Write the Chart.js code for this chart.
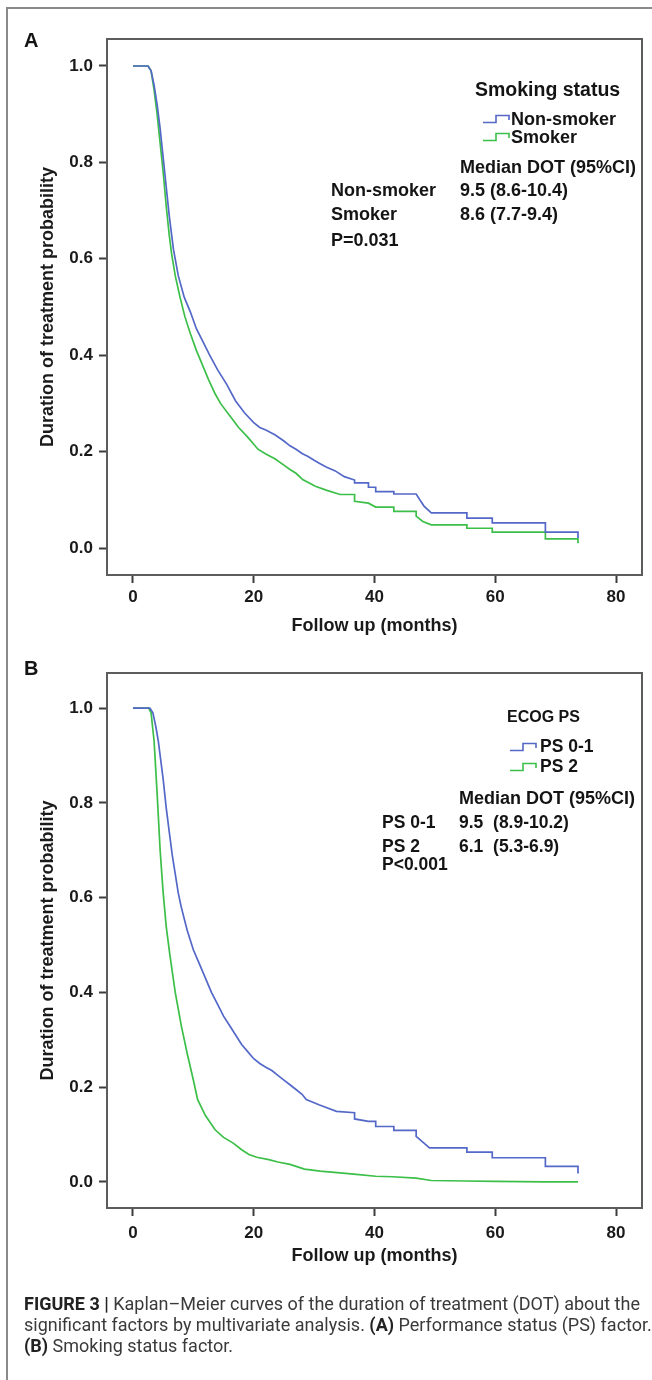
<!DOCTYPE html>
<html><head><meta charset="utf-8">
<script src="https://cdn.jsdelivr.net/npm/chart.js@4.4.1/dist/chart.umd.min.js"></script>
<style>
html,body{margin:0;padding:0;background:#fff;}
body{width:652px;height:1380px;position:relative;overflow:hidden;font-family:"Liberation Sans",Arial,sans-serif;}
.frame{position:absolute;left:6px;top:7px;width:800px;height:1500px;border-left:2px solid #8a8a8a;border-top:2px solid #8a8a8a;}
canvas{position:absolute;left:0;}
.t{position:absolute;white-space:pre;font-weight:bold;color:#141414;line-height:1;transform:translateY(-50%);}
.ic{position:absolute;transform:translateY(-50%);}
.cap{position:absolute;left:24px;white-space:pre;color:#3a3a3a;font-family:"Liberation Sans Narrow","Roboto",sans-serif;line-height:1;transform:translateY(-50%);}
.cap b{color:#222;}
</style></head>
<body>
<div class="frame"></div>
<canvas id="cA" width="652" height="645" style="top:0"></canvas>
<canvas id="cB" width="652" height="640" style="top:640px"></canvas>

<div class="t" style="left:24px;top:40px;font-size:20px">A</div>
<div class="t" style="left:475px;top:90px;font-size:19.5px">Smoking status</div>
<svg class="ic" style="left:483px;top:119px" width="28" height="10"><path d="M0,8.5H13V1.5H26V6" fill="none" stroke="#5468c8" stroke-width="1.6"/></svg>
<div class="t" style="left:511px;top:119px;font-size:18px">Non-smoker</div>
<svg class="ic" style="left:483px;top:137px" width="28" height="10"><path d="M0,8.5H13V1.5H26V6" fill="none" stroke="#3cbf48" stroke-width="1.6"/></svg>
<div class="t" style="left:511px;top:137px;font-size:18px">Smoker</div>
<div class="t" style="left:460px;top:167px;font-size:18px">Median DOT (95%CI)</div>
<div class="t" style="left:331px;top:190px;font-size:18px">Non-smoker</div>
<div class="t" style="left:460px;top:190px;font-size:18px">9.5 (8.6-10.4)</div>
<div class="t" style="left:331px;top:214px;font-size:18px">Smoker</div>
<div class="t" style="left:460px;top:214px;font-size:18px">8.6 (7.7-9.4)</div>
<div class="t" style="left:331px;top:240px;font-size:18px">P=0.031</div>

<div class="t" style="left:24px;top:668px;font-size:20px">B</div>
<div class="t" style="left:507px;top:717px;font-size:16px">ECOG PS</div>
<svg class="ic" style="left:510px;top:747px" width="28" height="10"><path d="M0,8.5H13V1.5H26V6" fill="none" stroke="#5468c8" stroke-width="1.6"/></svg>
<div class="t" style="left:540px;top:747px;font-size:17.5px">PS 0-1</div>
<svg class="ic" style="left:510px;top:767px" width="28" height="10"><path d="M0,8.5H13V1.5H26V6" fill="none" stroke="#3cbf48" stroke-width="1.6"/></svg>
<div class="t" style="left:540px;top:767px;font-size:17.5px">PS 2</div>
<div class="t" style="left:459px;top:798px;font-size:18px">Median DOT (95%CI)</div>
<div class="t" style="left:382px;top:823px;font-size:17.5px">PS 0-1</div>
<div class="t" style="left:459px;top:823px;font-size:17.5px">9.5  (8.9-10.2)</div>
<div class="t" style="left:382px;top:847px;font-size:17.5px">PS 2</div>
<div class="t" style="left:459px;top:847px;font-size:17.5px">6.1  (5.3-6.9)</div>
<div class="t" style="left:382px;top:865px;font-size:17.5px">P&lt;0.001</div>

<div class="cap" id="cap1" style="top:1304px"><b>FIGURE 3 |</b> Kaplan–Meier curves of the duration of treatment (DOT) about the</div>
<div class="cap" id="cap2" style="top:1325px">significant factors by multivariate analysis. <b>(A)</b> Performance status (PS) factor.</div>
<div class="cap" id="cap3" style="top:1346px"><b>(B)</b> Smoking status factor.</div>

<script>
// ---- data ----
const xTicks = [0, 20, 40, 60, 80];
const yTicks = [0, 0.2, 0.4, 0.6, 0.8, 1.0];
const xTitle = "Follow up (months)";
const yTitle = "Duration of treatment probability";

// Panel A: smoking status
const aNonT = [0,2.5,3.0,3.5,4.0,4.5,5.0,5.5,6.0,6.7,7.5,8.5,9.5,10.5,11.5,12.7,14,15.5,17,18.5,20,21,22,23.5,25,26,27,28,29,30,31,32,33.5,35,36.7,36.7,39,39,40.2,40.2,43.2,43.2,46.9,47.5,48.2,49.4,55.3,55.3,59.5,59.5,68.3,68.3,73.7,73.7];
const aNonS = [1,1,0.99,0.96,0.92,0.87,0.81,0.75,0.69,0.62,0.565,0.52,0.49,0.455,0.43,0.40,0.37,0.34,0.305,0.28,0.26,0.25,0.245,0.235,0.222,0.212,0.205,0.196,0.19,0.182,0.175,0.168,0.16,0.148,0.141,0.135,0.135,0.126,0.126,0.117,0.117,0.112,0.112,0.10,0.087,0.073,0.073,0.062,0.062,0.052,0.052,0.033,0.033,0.021];
const aSmkT = [0,2.5,3.0,3.5,4.0,4.5,5.0,5.5,6.0,6.4,7.0,7.8,8.6,9.5,10.5,11.5,12.5,13.6,14.5,16,17.5,19,20.7,22,23.5,25,26,27,28.1,30.2,32,34.3,36.7,36.7,39,40.2,43.2,43.2,46.9,46.9,48,49.4,55.3,55.3,59.5,59.5,68.3,68.3,73.7,73.7];
const aSmkS = [1,1,0.99,0.95,0.90,0.84,0.78,0.71,0.65,0.61,0.565,0.52,0.48,0.445,0.41,0.38,0.35,0.32,0.30,0.275,0.25,0.23,0.205,0.195,0.185,0.172,0.163,0.155,0.142,0.128,0.12,0.111,0.111,0.097,0.093,0.085,0.085,0.076,0.076,0.066,0.055,0.048,0.048,0.041,0.041,0.033,0.033,0.019,0.019,0.010];

// Panel B: ECOG PS
const bPs01T = [0,2.8,3.3,3.8,4.2,4.6,5.0,5.5,6.0,6.5,7.0,7.5,8.0,8.5,9.0,9.5,10.0,11,12,13,14,15,16,17,18,19,20,21,22,23,24,25,26,27,28,28.7,30.8,33.7,36.7,36.7,39,40.2,40.2,43.2,43.2,46.9,46.9,48.2,49.1,55.3,55.3,59.5,59.5,68.3,68.3,73.7,73.7];
const bPs01S = [1,1,0.99,0.96,0.93,0.89,0.85,0.79,0.74,0.69,0.65,0.61,0.58,0.555,0.53,0.51,0.49,0.46,0.43,0.40,0.375,0.35,0.33,0.31,0.29,0.275,0.26,0.25,0.242,0.235,0.225,0.215,0.205,0.195,0.185,0.174,0.163,0.149,0.146,0.133,0.128,0.128,0.117,0.117,0.109,0.109,0.096,0.082,0.072,0.072,0.063,0.063,0.051,0.051,0.033,0.033,0.018];
const bPs2T = [0,2.6,3.0,3.5,4.0,4.5,5.0,5.5,6.1,7.0,8.0,9.0,10.0,10.7,12,13.6,15,16.6,18,19.2,20.5,22.5,24,26,28.4,31,34.3,37,40.2,43,46.9,49.4,55,60,68.3,73.7];
const bPs2S = [1,1,0.99,0.93,0.82,0.70,0.61,0.54,0.48,0.40,0.33,0.27,0.215,0.174,0.14,0.11,0.094,0.082,0.068,0.058,0.052,0.047,0.042,0.037,0.027,0.023,0.019,0.016,0.012,0.011,0.008,0.003,0.002,0.001,0,0];

const seriesNames = { aNon: "Non-smoker", aSmk: "Smoker", bPs01: "PS 0-1", bPs2: "PS 2" };
const BLUE = "#5468c8", GREEN = "#3cbf48";

function pts(t, s) { return t.map((v, i) => ({ x: v, y: s[i] })); }

const framePlugin = {
  id: "frame",
  afterDraw(chart) {
    const { ctx, chartArea: a } = chart;
    ctx.save();
    ctx.strokeStyle = "#5c5c5c";
    ctx.lineWidth = 2;
    ctx.strokeRect(a.left, a.top, a.right - a.left, a.bottom - a.top);
    ctx.restore();
  }
};

function makeChart(id, sets, cfg) {
  const tickFont = { family: "Liberation Sans", size: 17, weight: "bold" };
  const titleFont = { family: "Liberation Sans", size: 18, weight: "bold" };
  return new Chart(document.getElementById(id), {
    type: "line",
    data: {
      datasets: sets.map(d => ({
        label: d.label, data: d.data, borderColor: d.color, backgroundColor: d.color,
        borderWidth: 1.7, pointRadius: 0, tension: 0, fill: false
      }))
    },
    options: {
      responsive: false, animation: false, devicePixelRatio: 1,
      layout: { padding: { left: 0, right: cfg.padRight, top: cfg.padTop, bottom: 0 } },
      plugins: { legend: { display: false }, tooltip: { enabled: false } },
      scales: {
        x: {
          type: "linear", min: -4.3, max: 84.3,
          afterBuildTicks: s => { s.ticks = xTicks.map(v => ({ value: v })); },
          afterFit: s => { s.height = cfg.xAxisH; },
          grid: { drawOnChartArea: false, drawTicks: true, tickLength: 8, tickColor: "#3c3c3c", tickWidth: 2 },
          border: { display: true, color: "#5c5c5c", width: 2 },
          ticks: { font: tickFont, color: "#1a1a1a", padding: cfg.xTickPad, maxRotation: 0, callback: v => String(v) },
          title: { display: true, text: xTitle, font: titleFont, color: "#1a1a1a", padding: { top: 0, bottom: cfg.xTitlePad } }
        },
        y: {
          type: "linear", min: cfg.yMin, max: cfg.yMax,
          afterBuildTicks: s => { s.ticks = yTicks.map(v => ({ value: v })); },
          afterFit: s => { s.width = 107; },
          grid: { drawOnChartArea: false, drawTicks: true, tickLength: 8, tickColor: "#3c3c3c", tickWidth: 2 },
          border: { display: true, color: "#5c5c5c", width: 2 },
          ticks: { font: tickFont, color: "#1a1a1a", padding: 6, callback: v => Number(v).toFixed(1) },
          title: { display: true, text: yTitle, font: titleFont, color: "#1a1a1a", padding: { top: 37, bottom: 0 } }
        }
      }
    },
    plugins: [framePlugin]
  });
}

makeChart("cA", [
  { label: seriesNames.aNon, data: pts(aNonT, aNonS), color: BLUE },
  { label: seriesNames.aSmk, data: pts(aSmkT, aSmkS), color: GREEN }
], { padRight: 10, padTop: 39, xAxisH: 70, xTickPad: 4, xTitlePad: 8, yMin: -0.056, yMax: 1.056 });

makeChart("cB", [
  { label: seriesNames.bPs01, data: pts(bPs01T, bPs01S), color: BLUE },
  { label: seriesNames.bPs2, data: pts(bPs2T, bPs2S), color: GREEN }
], { padRight: 10, padTop: 33, xAxisH: 72, xTickPad: 7, xTitlePad: 13, yMin: -0.055, yMax: 1.074 });

// fit caption width
(function fitCaption() {
  const c1 = document.getElementById("cap1");
  const base = 16;
  document.querySelectorAll(".cap").forEach(e => e.style.fontSize = base + "px");
  const w = c1.getBoundingClientRect().width;
  const size = base * 616 / w;
  document.querySelectorAll(".cap").forEach(e => e.style.fontSize = size.toFixed(2) + "px");
})();
</script>
</body></html>
